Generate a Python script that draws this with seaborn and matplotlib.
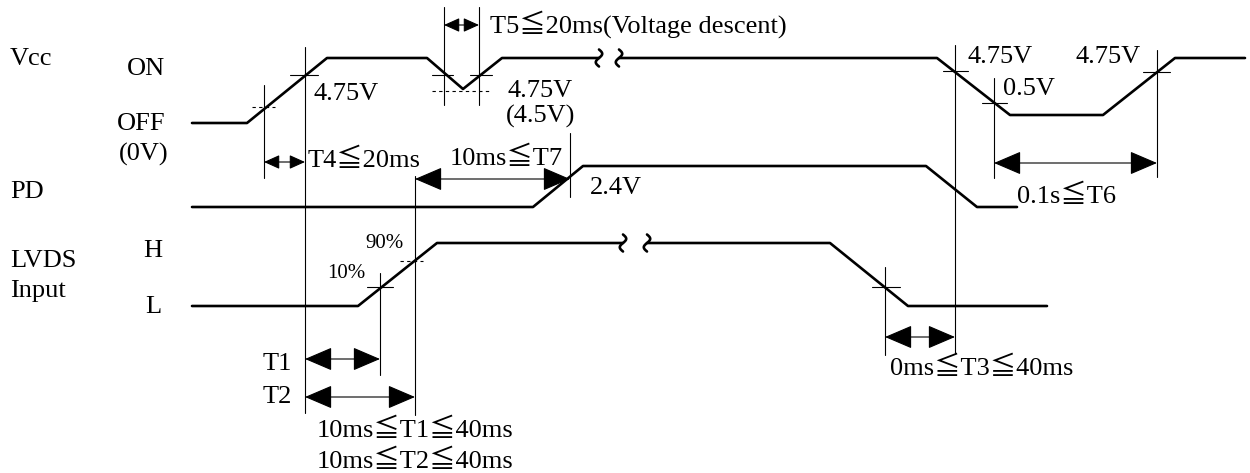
import numpy as np
import pandas as pd
import matplotlib
matplotlib.use("Agg")
import matplotlib.pyplot as plt
import seaborn as sns

# ---------------- data (time position, signal level in drawing units) -------------
vcc_t1 = [192, 247, 327, 427, 463, 502, 599]
vcc_v1 = [123, 123, 58, 58, 89, 58, 58]
vcc_t2 = [619, 937, 1010, 1103, 1175, 1245]
vcc_v2 = [58, 58, 115, 115, 58, 58]
pd_t = [192, 533, 583, 926, 977, 1017]
pd_v = [207, 207, 166, 166, 207, 207]
lvds_t1 = [192, 358, 437, 623]
lvds_v1 = [306, 306, 243, 243]
lvds_t2 = [647, 830, 908, 1047]
lvds_v2 = [243, 243, 306, 306]

# break marks (t, level)
breaks_t = [599, 619, 623, 647]
breaks_v = [58, 58, 243, 243]

# reference verticals (t, top, bottom)
vert_t = [264, 305, 444, 479, 415, 570, 955, 994, 1157, 380, 885]
vert_top = [85, 47, 7, 7, 176, 133, 45, 78, 50, 273, 267]
vert_bot = [178, 413, 105, 105, 415, 197, 353, 178, 177, 375, 355]

# threshold ticks solid (t0, t1, level)
tick_t0 = [290, 432, 470, 943, 982, 1143, 367, 872]
tick_t1 = [318, 453, 492, 968, 1007, 1170, 393, 900]
tick_v = [75, 75, 75, 71, 103, 72, 287, 287]
# dashed ticks
dtick_t0 = [252, 432, 400]
dtick_t1 = [275, 492, 423]
dtick_v = [107, 91, 261]

# dimension arrows (t0, t1, level, big?)
arr_t0 = [264, 444, 415, 994, 305, 305, 885]
arr_t1 = [305, 479, 570, 1157, 380, 415, 955]
arr_v = [162, 25, 179, 163, 359, 397, 337]
arr_big = [False, False, True, True, True, True, True]

# labels
lbl_text = ["Vcc", "ON", "OFF", "(0V)", "PD", "LVDS", "Input", "H", "L",
            "4.75V", "T5≦20ms(Voltage descent)", "4.75V", "(4.5V)",
            "T4≦20ms", "10ms≦T7", "2.4V", "4.75V", "4.75V", "0.5V",
            "0.1s≦T6", "T1", "T2", "10ms≦T1≦40ms", "10ms≦T2≦40ms",
            "0ms≦T3≦40ms"]
lbl_x = [10, 127, 117, 119, 10, 10, 10, 143, 145,
         313, 490, 507, 506,
         308, 450, 590, 968, 1075, 1003,
         1017, 263, 263, 317, 317,
         890]
lbl_y = [65, 75, 130, 161, 198, 267, 297, 257, 313,
         100, 33, 97, 123,
         167, 165, 194, 63, 63, 95,
         203, 370, 403, 437, 468,
         375]
small_text = ["90%", "10%"]
small_x = [365, 327]
small_y = [248, 278]

# ---------------- drawing -------------
sns.set_theme(style="white")
FONT = ["Liberation Serif", "DejaVu Serif", "Noto Sans CJK JP"]
plt.rcParams["font.family"] = FONT

fig = plt.figure(figsize=(12.5, 4.73), dpi=100)
ax = fig.add_axes([0, 0, 1, 1])

segs = []
for sid, (tt, vv) in enumerate([(vcc_t1, vcc_v1), (vcc_t2, vcc_v2), (pd_t, pd_v),
                                  (lvds_t1, lvds_v1), (lvds_t2, lvds_v2)]):
    for i, (a, b) in enumerate(zip(tt, vv)):
        segs.append({"t": a, "v": b, "seg": sid, "ord": i})
df = pd.DataFrame(segs)
sns.lineplot(data=df, x="t", y="v", units="seg", estimator=None, sort=False,
             color="black", linewidth=1.9, ax=ax, legend=False)

# break marks
s = np.linspace(-1, 1, 40)
for bt, bv in zip(breaks_t, breaks_v):
    ax.plot(bt - 3.2 * np.sin(np.pi * s), bv + 8.5 * s, color="black", lw=1.9,
            solid_capstyle="round")

for t, a, b in zip(vert_t, vert_top, vert_bot):
    ax.plot([t, t], [a, b], color="black", lw=0.8)
for a, b, v in zip(tick_t0, tick_t1, tick_v):
    ax.plot([a, b], [v, v], color="black", lw=0.8)
for a, b, v in zip(dtick_t0, dtick_t1, dtick_v):
    ax.plot([a, b], [v, v], color="black", lw=0.8, dashes=(3, 3))

for a, b, v, big in zip(arr_t0, arr_t1, arr_v, arr_big):
    style = "<|-|>,head_length=1.45,head_width=0.62" if big else \
        "<|-|>,head_length=0.8,head_width=0.36"
    ax.annotate("", xy=(b, v), xytext=(a, v),
                arrowprops=dict(arrowstyle=style, color="black", lw=0.8,
                                shrinkA=0, shrinkB=0))

for tx, x, y in zip(lbl_text, lbl_x, lbl_y):
    ax.text(x, y, tx, fontsize=19, ha="left", va="baseline", family=FONT,
            color="black")
for tx, x, y in zip(small_text, small_x, small_y):
    ax.text(x, y, tx, fontsize=15, ha="left", va="baseline", family=FONT,
            color="black")

ax.set_xlim(0, 1250)
ax.set_ylim(473, 0)
ax.axis("off")
fig.savefig("out.png", dpi=100, facecolor="white")
